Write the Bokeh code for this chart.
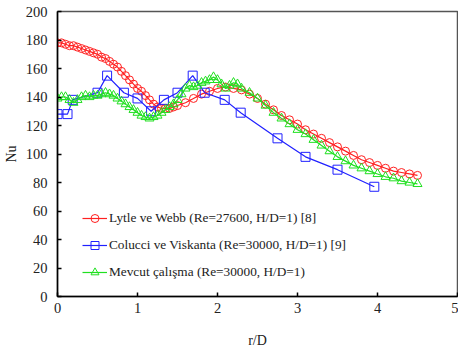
from bokeh.plotting import figure
from bokeh.models import Range1d, Legend, LegendItem, FixedTicker
from bokeh.embed import file_html
from bokeh.resources import INLINE

# Lytle ve Webb
red_x = [0.0, 0.05, 0.1, 0.15, 0.2, 0.25, 0.3, 0.35, 0.4, 0.45, 0.5, 0.55, 0.6, 0.65, 0.7, 0.75,
         0.8, 0.85, 0.9, 0.95, 1.0, 1.05, 1.1, 1.15, 1.2, 1.25, 1.3, 1.35, 1.4, 1.45, 1.5,
         1.6, 1.7, 1.8, 1.9, 2.0, 2.1, 2.2, 2.3, 2.4, 2.5, 2.6, 2.7, 2.8, 2.9, 3.0,
         3.1, 3.2, 3.3, 3.4, 3.5, 3.6, 3.7, 3.8, 3.9, 4.0, 4.1, 4.2, 4.3, 4.4, 4.5]
red_y = [178, 178, 177, 176, 176, 175, 174, 173, 172, 171, 170, 168, 167, 165, 163, 161,
         158, 155, 152, 149, 146, 144, 141, 138, 135, 133, 132, 132, 132, 133, 134,
         136, 139, 142, 144, 146, 147, 146, 145, 142, 139, 135, 131, 127, 124, 121,
         117, 114, 111, 108, 105, 102, 99, 96, 94, 92, 90, 88, 87, 86, 85]

# Colucci ve Viskanta
blue_x = [0.0, 0.125, 0.19, 0.5, 0.62, 0.83, 1.0, 1.17, 1.33, 1.5, 1.69, 1.84, 2.09, 2.29,
          2.75, 3.1, 3.5, 3.96]
blue_y = [128, 128, 138, 143, 155, 143, 139, 130, 138, 143, 155, 143, 138, 129,
          111, 98, 89, 77]

# Mevcut calisma
green_x = [0.0, 0.05, 0.1, 0.15, 0.2, 0.25, 0.3, 0.35, 0.4, 0.45, 0.5, 0.55, 0.6, 0.65, 0.7, 0.75,
           0.8, 0.85, 0.9, 0.95, 1.0, 1.05, 1.1, 1.15, 1.2, 1.25, 1.3, 1.35, 1.4, 1.45, 1.5,
           1.55, 1.6, 1.65, 1.7, 1.75, 1.8, 1.85, 1.9, 1.95, 2.0, 2.05, 2.1, 2.15, 2.2, 2.25,
           2.3, 2.4, 2.5, 2.6, 2.7, 2.8, 2.9, 3.0, 3.1, 3.2, 3.3, 3.4, 3.5, 3.6, 3.7, 3.8,
           3.9, 4.0, 4.1, 4.2, 4.3, 4.4, 4.5]
green_y = [139, 140, 140, 138, 136, 138, 140, 141, 140, 141, 141, 142, 143, 142, 141, 139,
           137, 135, 133, 131, 129, 127, 126, 125, 126, 127, 129, 131, 133, 135, 138,
           142, 146, 148, 147, 148, 150, 151, 152, 154, 152, 149, 146, 148, 150, 149,
           146, 143, 139, 134, 129, 125, 121, 117, 114, 110, 106, 102, 98, 95, 92, 90,
           88, 86, 84, 83, 81, 80, 79]

x_ticks = [0, 1, 2, 3, 4, 5]
y_ticks = [0, 20, 40, 60, 80, 100, 120, 140, 160, 180, 200]

FONT = "'Liberation Serif', 'Times New Roman', serif"

p = figure(frame_width=400, frame_height=285, output_backend="svg", toolbar_location=None,
           x_range=Range1d(0, 5), y_range=Range1d(0, 200),
           min_border_left=52, min_border_right=1, min_border_top=11, min_border_bottom=44)
p.xgrid.visible = False
p.ygrid.visible = False
p.outline_line_color = "#555555"
p.outline_line_width = 1.5

for ax in (p.xaxis[0], p.yaxis[0]):
    ax.major_tick_in = 4
    ax.major_tick_out = 0
    ax.minor_tick_line_color = None
    ax.axis_line_width = 1.5
    ax.major_tick_line_width = 1.5
    ax.major_label_text_font = FONT
    ax.major_label_text_font_size = "14.5px"
    ax.major_label_text_font_style = "normal"
    ax.major_label_text_color = "#222222"
    ax.axis_label_text_font = FONT
    ax.axis_label_text_font_size = "14px"
    ax.axis_label_text_font_style = "normal"
    ax.axis_label_text_color = "#222222"

p.xaxis.ticker = FixedTicker(ticks=x_ticks)
p.yaxis.ticker = FixedTicker(ticks=y_ticks)
p.xaxis.axis_label = "r/D"
p.yaxis.axis_label = "Nu"
p.xaxis.major_label_standoff = 6
p.yaxis.major_label_standoff = 10
p.xaxis.axis_label_standoff = 17
p.yaxis.axis_label_standoff = 4

RED = "#ff2020"
BLUE = "#2020ff"
GREEN = "#20e020"

r1 = p.line(red_x, red_y, line_color=RED, line_width=1.2)
m1 = p.scatter(red_x, red_y, marker="circle", size=8, line_color=RED, fill_color=None, line_width=1)
r2 = p.line(blue_x, blue_y, line_color=BLUE, line_width=1.2)
m2 = p.scatter(blue_x, blue_y, marker="square", size=9, line_color=BLUE, fill_color=None, line_width=1)
r3 = p.line(green_x, green_y, line_color=GREEN, line_width=1.2)
m3 = p.scatter(green_x, green_y, marker="triangle", size=9, line_color=GREEN, fill_color=None, line_width=1)

legend = Legend(items=[
    LegendItem(label="Lytle ve Webb (Re=27600, H/D=1) [8]", renderers=[r1, m1]),
    LegendItem(label="Colucci ve Viskanta (Re=30000, H/D=1) [9]", renderers=[r2, m2]),
    LegendItem(label="Mevcut çalışma (Re=30000, H/D=1)", renderers=[r3, m3]),
], location=(25, 14))
legend.background_fill_alpha = 0
legend.border_line_color = None
legend.padding = 0
legend.margin = 0
legend.spacing = 7
legend.glyph_width = 25
legend.glyph_height = 20
legend.label_standoff = 2
legend.label_text_font = FONT
legend.label_text_font_size = "13.3px"
legend.label_text_font_style = "normal"
legend.label_text_color = "#222222"
p.add_layout(legend, "center")

open("out.html", "w").write(file_html(p, INLINE))
